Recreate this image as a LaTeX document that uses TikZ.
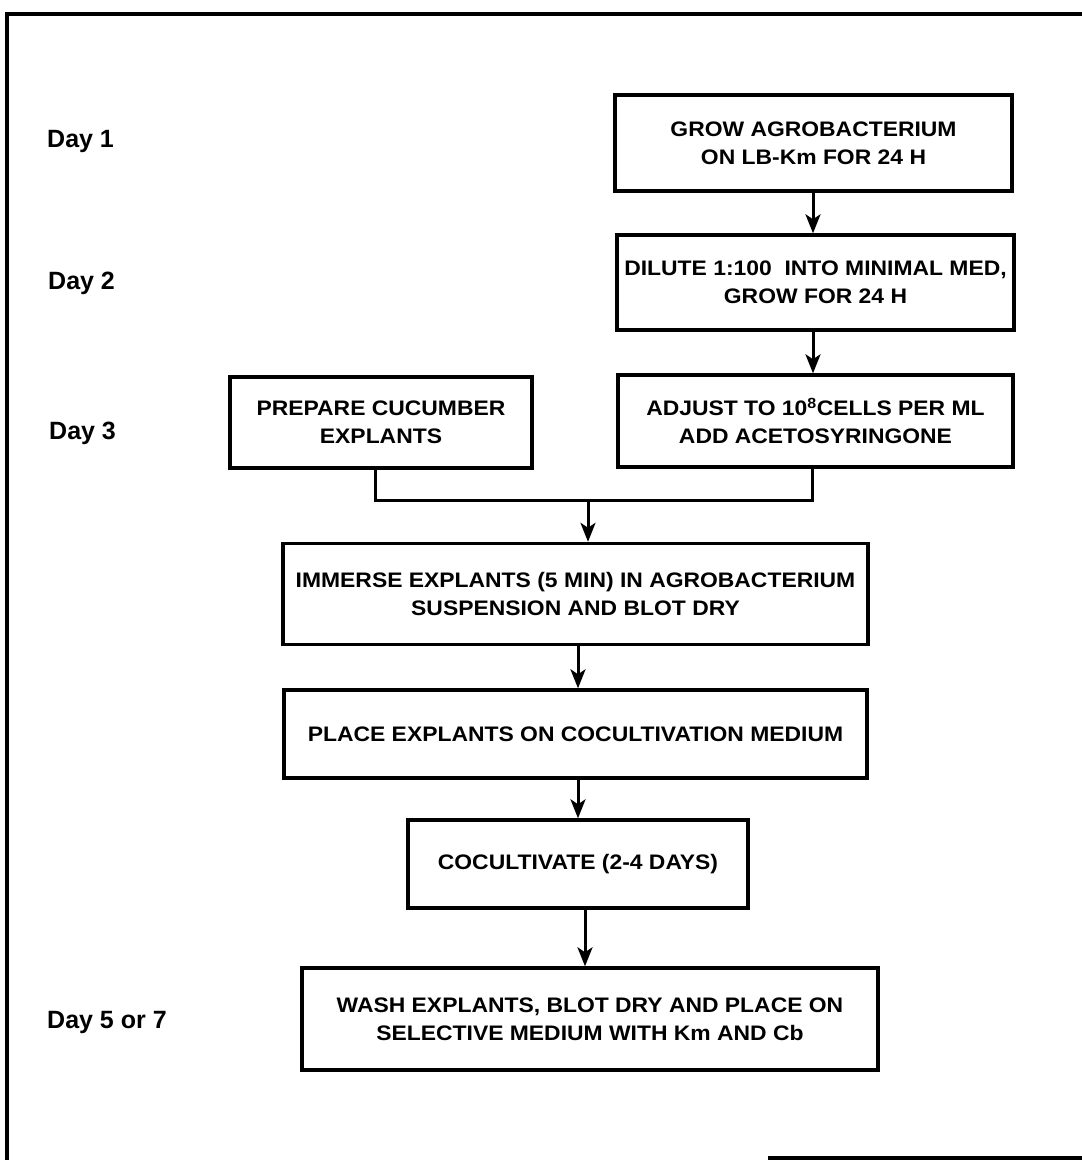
\documentclass[tikz,border=0pt]{standalone}
\usepackage{fontspec}
\setmainfont{Liberation Sans}
\newfontfamily\boxfont[FakeStretch=1.09]{Liberation Sans}
\usetikzlibrary{arrows.meta}
\begin{document}
\begin{tikzpicture}[x=1pt,y=-1pt,
  box/.style={draw,line width=3.4pt,align=center,inner sep=0pt,
    font=\boxfont\bfseries\fontsize{21}{28}\selectfont},
  day/.style={anchor=west,inner sep=0pt,font=\bfseries\fontsize{25}{28}\selectfont},
  arr/.style={line width=3pt,-{Stealth[length=19pt,width=15pt,inset=5pt]}},
  conn/.style={line width=3pt},
  frame/.style={line width=3.6pt}]
\useasboundingbox (0,0) rectangle (1082,1160);
% frame
\coordinate (ftr) at (1082,14);
\coordinate (ftl) at (7,14);
\coordinate (fbl) at (7,1160);
\coordinate (fb1) at (768,1158);
\coordinate (fb2) at (1082,1158);
\draw[frame] (fbl) -- (ftl) -- (ftr);
\draw[frame] (fb1) -- (fb2);
% day labels
\node[day] (d1) at (47,141) {Day 1};
\node[day] (d2) at (48,283) {Day 2};
\node[day] (d3) at (49,433) {Day 3};
\node[day] (d5) at (47,1022) {Day 5 or 7};
% boxes
\node[box,minimum width=397pt,minimum height=96pt] (b1) at (813.5,143) {GROW AGROBACTERIUM\\ON LB-Km FOR 24 H};
\node[box,minimum width=397pt,minimum height=95pt] (b2) at (815.5,282.5) {DILUTE 1:100\ \ INTO MINIMAL MED,\\GROW FOR 24 H};
\node[box,minimum width=302pt,minimum height=91pt] (b3) at (381,422.5) {PREPARE CUCUMBER\\EXPLANTS};
\node[box,minimum width=395pt,minimum height=92pt] (b4) at (815.5,421) {ADJUST TO 10\textsuperscript{8}CELLS PER ML\\ADD ACETOSYRINGONE};
\node[box,minimum width=585pt,minimum height=101pt] (b5) at (575.5,594) {IMMERSE EXPLANTS (5 MIN) IN AGROBACTERIUM\\SUSPENSION AND BLOT DRY};
\node[box,minimum width=583pt,minimum height=88pt] (b6) at (575.5,734) {PLACE EXPLANTS ON COCULTIVATION MEDIUM};
\node[box,minimum width=340pt,minimum height=88pt] (b7) at (578,864) {COCULTIVATE (2-4 DAYS)};
\node[box,minimum width=576pt,minimum height=102pt] (b8) at (590,1019) {WASH EXPLANTS, BLOT DRY AND PLACE ON\\SELECTIVE MEDIUM WITH Km AND Cb};
% connectors
\coordinate (j3) at (375,500);
\coordinate (j4) at (812,500);
\coordinate (jm) at (588,500);
\draw[arr] (813,0 |- b1.south) -- (813,0 |- b2.north);
\draw[arr] (813,0 |- b2.south) -- (813,0 |- b4.north);
\draw[conn] (b3.south -| j3) -- (j3) -- (j4) -- (b4.south -| j4);
\draw[arr] (jm) -- (jm |- b5.north);
\draw[arr] (578,0 |- b5.south) -- (578,0 |- b6.north);
\draw[arr] (578,0 |- b6.south) -- (578,0 |- b7.north);
\draw[arr] (585,0 |- b7.south) -- (585,0 |- b8.north);
\end{tikzpicture}
\end{document}
